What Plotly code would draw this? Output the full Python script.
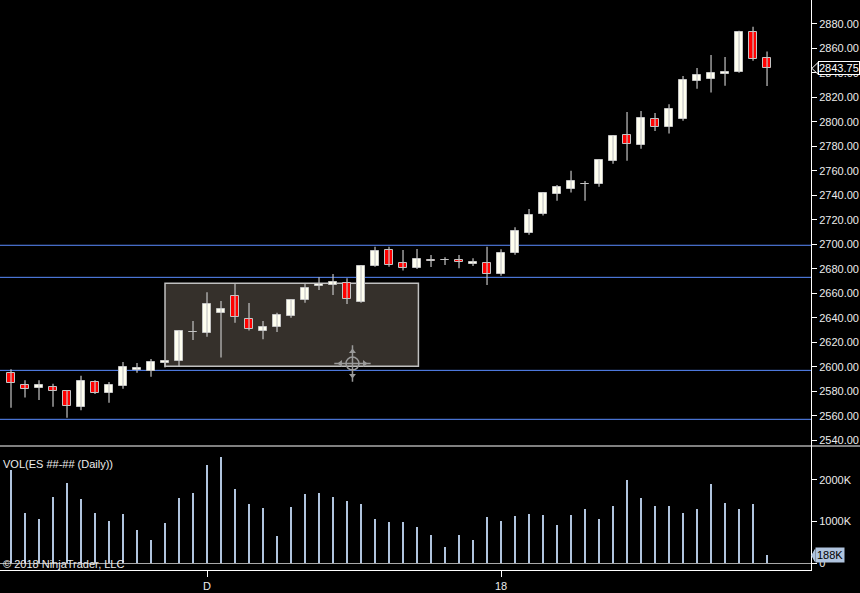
import plotly.graph_objs as go

# daily ES bars (index 0 = first bar on the left)
opens = [2594.5, 2585.0, 2582.75, 2583.5, 2580.0, 2567.25, 2587.25, 2578.75, 2584.5, 2597.5,
         2596.25, 2603.25, 2605.0, 2628.0, 2627.75, 2643.5, 2657.5, 2638.75, 2629.5, 2632.75,
         2641.75, 2654.75, 2665.75, 2667.0, 2668.0, 2652.5, 2682.5, 2695.0, 2684.5, 2681.0,
         2686.75, 2687.0, 2687.25, 2683.75, 2684.5, 2675.5, 2693.0, 2709.5, 2724.5, 2741.0,
         2745.5, 2749.5, 2749.0, 2767.75, 2789.0, 2781.5, 2802.0, 2796.0, 2802.5, 2833.75,
         2835.25, 2839.0, 2841.0, 2873.25, 2852.0]
highs = [2598.0, 2589.0, 2589.0, 2586.0, 2580.5, 2592.5, 2589.0, 2587.5, 2603.75, 2603.0,
         2606.25, 2605.0, 2630.0, 2637.25, 2660.75, 2653.75, 2668.0, 2652.0, 2637.25, 2644.0,
         2655.0, 2668.0, 2673.0, 2675.75, 2672.25, 2683.0, 2698.0, 2698.0, 2695.25, 2696.25,
         2691.25, 2689.5, 2691.25, 2688.5, 2698.0, 2696.0, 2714.0, 2728.75, 2742.75, 2748.5,
         2760.0, 2751.75, 2769.5, 2789.25, 2808.0, 2809.0, 2807.25, 2814.5, 2837.5, 2844.0,
         2854.75, 2853.0, 2874.5, 2877.75, 2857.5]
lows = [2566.5, 2574.75, 2572.75, 2567.25, 2558.25, 2564.5, 2577.75, 2570.5, 2582.0, 2595.0,
        2591.75, 2599.25, 2600.5, 2621.75, 2624.5, 2607.5, 2636.0, 2629.5, 2622.5, 2628.25,
        2640.0, 2652.25, 2662.75, 2658.5, 2651.25, 2652.25, 2681.75, 2681.75, 2678.5, 2679.75,
        2681.5, 2683.0, 2680.5, 2682.25, 2666.75, 2674.25, 2691.5, 2707.75, 2723.5, 2735.5,
        2742.25, 2735.5, 2747.0, 2765.75, 2768.25, 2778.0, 2792.5, 2790.5, 2801.0, 2827.0,
        2824.0, 2829.5, 2840.25, 2850.0, 2829.25]
closes = [2587.0, 2582.0, 2585.0, 2580.5, 2568.0, 2588.25, 2578.75, 2585.0, 2599.75, 2598.75,
          2603.5, 2604.75, 2629.25, 2628.25, 2651.0, 2647.0, 2640.75, 2631.0, 2632.25, 2642.0,
          2654.25, 2664.0, 2667.5, 2669.0, 2655.5, 2682.0, 2694.5, 2683.25, 2681.0, 2687.75,
          2686.5, 2687.25, 2685.25, 2685.25, 2675.5, 2692.5, 2710.5, 2723.75, 2741.75, 2746.5,
          2751.5, 2749.25, 2768.5, 2788.25, 2781.75, 2803.0, 2795.5, 2810.25, 2834.0, 2838.0,
          2839.75, 2840.5, 2873.25, 2851.5, 2843.75]
volume_k = [2240, 1208, 1064, 1592, 1928, 1544, 1208, 1016, 1184, 800,
            560, 968, 1568, 1688, 2360, 2552, 1784, 1424, 1328, 656,
            1352, 1664, 1688, 1592, 1496, 1424, 1064, 992, 992, 872,
            680, 392, 680, 560, 1112, 1016, 1136, 1184, 1160, 920,
            1160, 1304, 1064, 1376, 2000, 1568, 1376, 1376, 1208, 1304,
            1904, 1448, 1304, 1424, 188]

bar_idx = list(range(len(opens)))
x_tick_pos = [14, 35]
x_tick_text = ['D', '18']
price_ticks = list(range(2540, 2881, 20))
vol_ticks = [0, 1000, 2000]
vol_tick_text = ['0', '1000K', '2000K']
level_lines = [2699.2, 2673, 2597, 2557]
zone = dict(x0=11.0, x1=29.1, y0=2600.3, y1=2668.1)

FONT = 'Liberation Sans, Arial, sans-serif'
TXT = '#ececec'
GRAY = '#c4c4c4'
ICON = '#9a9a9a'
SPLIT = (593 - 446) / 593   # price / volume split
BOTTOM = (593 - 570) / 593
RIGHT = 811 / 860

fig = go.Figure()

# wicks
wx, wy = [], []
for i, h, l in zip(bar_idx, highs, lows):
    wx += [i, i, None]
    wy += [l, h, None]
fig.add_trace(go.Scatter(x=wx, y=wy, mode='lines', line=dict(color=GRAY, width=1.2),
                         xaxis='x2', yaxis='y', hoverinfo='skip'))

# bodies
base = [min(o, c) for o, c in zip(opens, closes)]
height = [max(abs(c - o), 0.4) for o, c in zip(opens, closes)]
colors = ['#fffff0' if c >= o else '#ff0000' for o, c in zip(opens, closes)]
fig.add_trace(go.Bar(x=bar_idx, y=height, base=base, width=0.57,
                     marker=dict(color=colors, line=dict(color=GRAY, width=1)),
                     xaxis='x2', yaxis='y'))

# volume
fig.add_trace(go.Bar(x=bar_idx, y=volume_k, width=0.18, marker=dict(color='#b0c4de', line=dict(width=0)),
                     xaxis='x', yaxis='y2'))

# crosshair icon on the drawn zone
cx, cy = 24.39, 2602.6
fig.add_trace(go.Scatter(x=[cx], y=[cy], mode='markers', xaxis='x2', yaxis='y', hoverinfo='skip',
                         marker=dict(symbol='circle-open', size=13, color=ICON, line=dict(width=1.5))))
fig.add_trace(go.Scatter(x=[cx], y=[cy], mode='markers', xaxis='x2', yaxis='y', hoverinfo='skip',
                         marker=dict(symbol='cross-thin-open', size=26, color=ICON, line=dict(width=1.5))))
fig.add_trace(go.Scatter(x=[cx, cx, cx - 0.86, cx + 0.86], y=[cy + 9.8, cy - 9.8, cy, cy],
                         mode='markers', xaxis='x2', yaxis='y', hoverinfo='skip',
                         marker=dict(symbol=['triangle-up', 'triangle-down', 'triangle-left', 'triangle-right'],
                                     size=6, color=ICON, line=dict(width=0))))

shapes = [
    dict(type='rect', xref='x2', yref='y', layer='below', fillcolor='#35302b',
         line=dict(color='#c0c0c0', width=1.5), **zone),
    dict(type='line', xref='paper', yref='paper', x0=0, x1=1, y0=SPLIT, y1=SPLIT,
         line=dict(color='white', width=1)),
    # last price marker arrow
    dict(type='path', xref='paper', yref='y', path='M %f,2843.75 L %f,2848.5 L %f,2839.0 Z' % (RIGHT + 0.001, 818 / 860, 818 / 860),
         fillcolor='black', line=dict(color='white', width=1)),
    dict(type='path', xref='paper', yref='y2', path='M %f,188 L %f,330 L %f,46 Z' % (RIGHT + 0.001, 815 / 860, 815 / 860),
         fillcolor='#b0c4de', line=dict(color='#b0c4de', width=1)),
]
for lv in level_lines:
    shapes.append(dict(type='line', xref='x2', yref='y', x0=-1, x1=58, y0=lv, y1=lv, layer='below',
                       line=dict(color='#5a8cff', width=1)))

annotations = [
    dict(text='VOL(ES ##-## (Daily))', xref='paper', yref='paper', x=1 / 860, y=(593 - 464) / 593,
         xanchor='left', yanchor='middle', showarrow=False, font=dict(family=FONT, size=11, color=TXT)),
    dict(text='© 2018 NinjaTrader, LLC', xref='paper', yref='paper', x=1 / 860, y=(593 - 564) / 593,
         xanchor='left', yanchor='middle', showarrow=False, font=dict(family=FONT, size=11, color=TXT)),
    dict(text='2843.75', xref='paper', yref='y', x=818 / 860, y=closes[-1], xanchor='left', yanchor='middle',
         showarrow=False, bgcolor='black', bordercolor='white', borderwidth=1, borderpad=0,
         font=dict(family=FONT, size=11, color='white')),
    dict(text='188K', xref='paper', yref='y2', x=815 / 860, y=volume_k[-1], xanchor='left', yanchor='middle',
         showarrow=False, bgcolor='#b0c4de', borderpad=1,
         font=dict(family=FONT, size=11, color='black')),
]

fig.update_layout(
    width=860, height=593,
    margin=dict(l=0, r=0, t=0, b=0),
    paper_bgcolor='black', plot_bgcolor='black',
    showlegend=False,
    font=dict(family=FONT, size=11, color=TXT),
    xaxis=dict(domain=[0, RIGHT], range=[-0.786, 57.14], anchor='y2', showgrid=False, zeroline=False,
               tickvals=x_tick_pos, ticktext=x_tick_text, ticks='outside', ticklen=6, tickcolor='white',
               showline=True, linecolor='white', linewidth=1, tickfont=dict(size=11, color=TXT)),
    xaxis2=dict(domain=[0, RIGHT], matches='x', anchor='y', showgrid=False, zeroline=False,
                showticklabels=False, ticks=''),
    yaxis=dict(domain=[SPLIT, 1], range=[2535.2, 2899.6], side='right', anchor='x2', showgrid=False,
               zeroline=False, tickvals=price_ticks, tickformat='.2f', ticks='outside', ticklen=5,
               tickcolor='white', showline=True, linecolor='white', linewidth=1,
               tickfont=dict(size=11, color=TXT)),
    yaxis2=dict(domain=[BOTTOM, SPLIT], range=[-160, 2813], side='right', anchor='x', showgrid=False,
                zeroline=True, zerolinecolor='#a8a8a8', zerolinewidth=1,
                tickvals=vol_ticks, ticktext=vol_tick_text, ticks='outside', ticklen=5,
                tickcolor='white', showline=True, linecolor='white', linewidth=1,
                tickfont=dict(size=11, color=TXT)),
    shapes=shapes,
    annotations=annotations,
    bargap=0,
)

fig.write_html("out.html", config={'displayModeBar': False},
               post_script="document.body.style.margin='0';document.body.style.background='black';")
